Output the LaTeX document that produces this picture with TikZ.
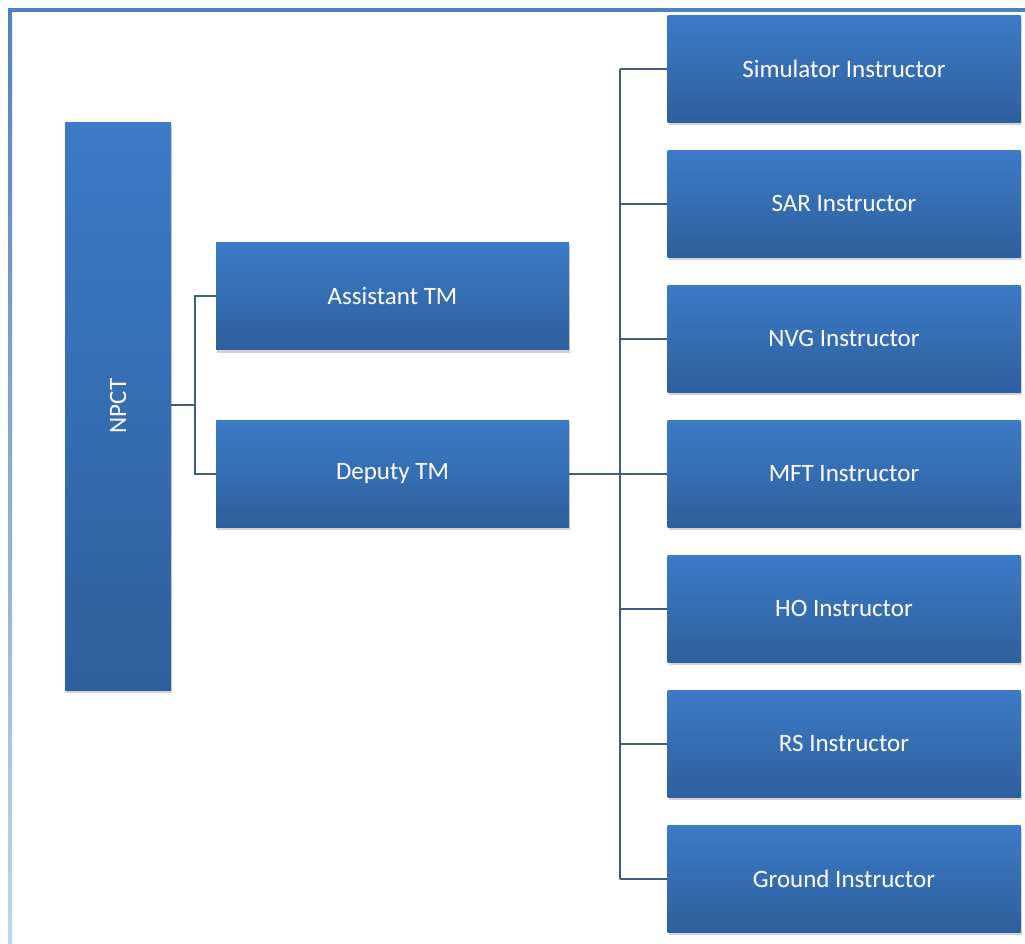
\documentclass[tikz,border=0pt]{standalone}
\usepackage{fontspec}
\setmainfont{Carlito}
\usepackage{xcolor}
\usepackage{tikz}
\usetikzlibrary{shadows}
\definecolor{FrameBlue}{HTML}{4F81BD}
\definecolor{FrameFade}{HTML}{C3D5EC}
\definecolor{BoxTop}{HTML}{3C7BC8}
\definecolor{BoxBottom}{HTML}{2F5F9D}
\definecolor{LinkSlate}{HTML}{3E5D7E}

\begin{document}
\begin{tikzpicture}[x=1pt, y=-1pt,
    unitbox/.style={draw=none, top color=BoxTop, bottom color=BoxBottom,
        minimum width=353pt, minimum height=107pt, inner sep=0pt,
        text=white, font=\fontsize{25}{30}\selectfont,
        drop shadow={shadow xshift=1pt, shadow yshift=-3pt, opacity=0.35}},
    link/.style={draw=LinkSlate, line width=2pt}]
            \useasboundingbox (0,0) rectangle (1025,943);
            \clip (0,0) rectangle (1025,943);

            % Page frame
            \fill[FrameBlue] (8,8) rectangle (1030,12);
            \shade[top color=FrameBlue, bottom color=FrameFade] (8,8) rectangle (12,943);

            % Left column
            \node[unitbox, minimum width=106pt, minimum height=568pt] (npct) at (118,406) {\rotatebox{90}{NPCT}};
            \node[unitbox] (assistant) at (392.5,296) {Assistant TM};
            \node[unitbox] (deputy) at (392.5,473.5) {Deputy TM};

            % Instructors
            \foreach \name/\label [count=\i from 0] in {sim/Simulator Instructor, sar/SAR Instructor,
                nvg/NVG Instructor, mft/MFT Instructor, ho/HO Instructor, rs/RS Instructor,
                ground/Ground Instructor} {
                \node[unitbox] (\name) at (844,68.5+135*\i) {\label};
            }

            % Connectors
            \coordinate (fork) at (195,405);
            \coordinate (bus) at (620,473.5);
            \draw[link] (npct.east |- fork) -- (fork);
            \draw[link] (assistant.west) -| (fork) |- (deputy.west);
            \draw[link] (deputy.east) -- (bus);
            \draw[link] (bus |- sim.west) -- (bus |- ground.west);
            \foreach \name in {sim,sar,nvg,mft,ho,rs,ground} {
                \draw[link] (bus |- \name.west) -- (\name.west);
            }
        \end{tikzpicture}
\end{document}
